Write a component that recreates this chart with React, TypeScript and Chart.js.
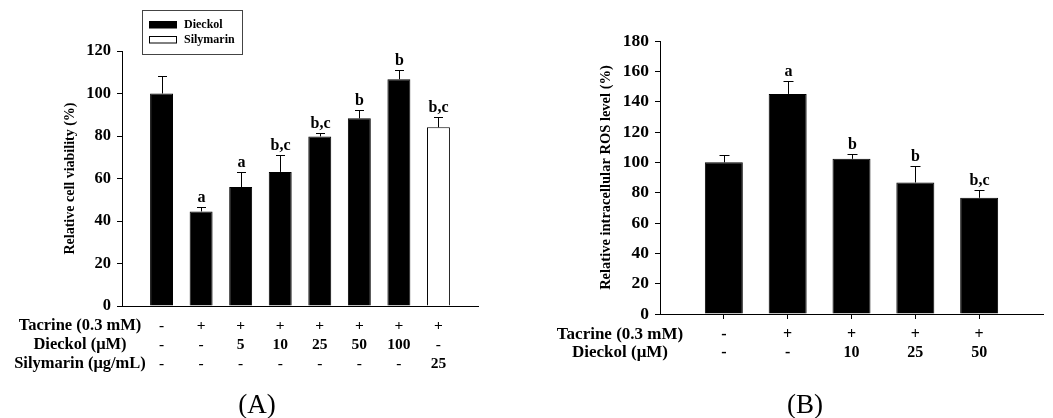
import React, { useEffect, useRef } from 'react';
import { Chart, registerables } from 'chart.js';

Chart.register(...registerables);

const SERIF = "'Liberation Serif', 'Times New Roman', Times, serif";

// ---------- Panel A data ----------
const seriesNames = ['Dieckol', 'Silymarin'];
const barSeriesA = ['Dieckol', 'Dieckol', 'Dieckol', 'Dieckol', 'Dieckol', 'Dieckol', 'Dieckol', 'Silymarin'];
const tacrineRowA = ['-', '+', '+', '+', '+', '+', '+', '+'];
const dieckolRowA = ['-', '-', '5', '10', '25', '50', '100', '-'];
const silymarinRowA = ['-', '-', '-', '-', '-', '-', '-', '25'];
const rowTitlesA = ['Tacrine (0.3 mM)', 'Dieckol (\u03bcM)', 'Silymarin (\u03bcg/mL)'];
const viability = [100, 44.5, 56, 63.1, 79.8, 88.3, 106.7, 84.1];
const viabilityErr = [8.3, 1.9, 6.9, 7.8, 1.5, 4.1, 4.2, 4.7];
const viabilityLetters = ['', 'a', 'a', 'b,c', 'b,c', 'b', 'b', 'b,c'];
const yTitleA = 'Relative cell viability (%)';
const yMaxA = 120;
const captionA = '(A)';

// ---------- Panel B data ----------
const tacrineRowB = ['-', '+', '+', '+', '+'];
const dieckolRowB = ['-', '-', '10', '25', '50'];
const rowTitlesB = ['Tacrine (0.3 mM)', 'Dieckol (\u03bcM)'];
const ros = [100, 145.1, 102.3, 86.7, 76.6];
const rosErr = [5.0, 8.8, 3.3, 11.2, 5.3];
const rosLetters = ['', 'a', 'b', 'b', 'b,c'];
const yTitleB = 'Relative intracellular ROS level (%)';
const yMaxB = 180;
const captionB = '(B)';

const yStep = 20;

type PanelSpec = {
  rows: string[][];
  rowTitles: string[];
  means: number[];
  errs: number[];
  letters: string[];
  series: string[];
  yTitle: string;
  yMax: number;
  caption: string;
  layout: {
    canvasW: number;
    padLeft: number;
    padTop: number;
    padRight: number;
    yAxisW: number;
    xAxisH: number;
    barPct: number;
    tickFont: number;
    tableFont: number;
    rowTitleFont: number;
    lineH: number;
    xTickLen: number;
    xTickPad: number;
    yTitleFont: number;
    rowTitleX: number;
    captionX: number;
    captionY: number;
    capW: number;
    legend: null | { x: number; y: number; w: number; h: number };
  };
};

function makeConfig(spec: PanelSpec): any {
  const L = spec.layout;
  const n = spec.means.length;
  const labels: any[] = [''];
  for (let i = 0; i < n; i++) labels.push(spec.rows.map((r) => r[i]));
  labels.push('');

  const datasets = seriesNames
    .filter((s) => spec.series.includes(s))
    .map((s) => ({
      label: s,
      data: [null, ...spec.means.map((v, i) => (spec.series[i] === s ? v : null)), null],
      backgroundColor: s === 'Dieckol' ? '#000000' : '#ffffff',
      borderColor: '#000000',
      borderWidth: 1,
      grouped: false,
      categoryPercentage: 1,
      barPercentage: L.barPct,
    }));

  const annot = {
    id: 'annot',
    afterDatasetsDraw(chart: any) {
      const ctx = chart.ctx;
      const xs = chart.scales.x;
      const ys = chart.scales.y;
      ctx.save();
      ctx.strokeStyle = '#000';
      ctx.lineWidth = 1;
      for (let i = 0; i < n; i++) {
        const x = Math.round(xs.getPixelForValue(i + 1)) + 0.5;
        const yb = ys.getPixelForValue(spec.means[i]);
        const yt = Math.round(ys.getPixelForValue(spec.means[i] + spec.errs[i])) + 0.5;
        ctx.beginPath();
        ctx.moveTo(x, yb);
        ctx.lineTo(x, yt);
        ctx.moveTo(x - L.capW / 2, yt);
        ctx.lineTo(x + L.capW / 2, yt);
        ctx.stroke();
        if (spec.letters[i]) {
          ctx.fillStyle = '#000';
          ctx.font = `bold 16px ${SERIF}`;
          ctx.textAlign = 'center';
          ctx.textBaseline = 'alphabetic';
          ctx.fillText(spec.letters[i], x, yt - 6);
        }
      }
      ctx.restore();
    },
    afterDraw(chart: any) {
      const ctx = chart.ctx;
      const area = chart.chartArea;
      ctx.save();
      ctx.fillStyle = '#000';
      ctx.font = `bold ${L.rowTitleFont}px ${SERIF}`;
      ctx.textAlign = 'center';
      ctx.textBaseline = 'middle';
      spec.rowTitles.forEach((t, r) => {
        const y = area.bottom + L.xTickLen + L.xTickPad + L.lineH * (r + 0.5);
        ctx.fillText(t, L.rowTitleX, y);
      });
      ctx.font = `27px ${SERIF}`;
      ctx.fillText(spec.caption, L.captionX, L.captionY);
      if (L.legend) {
        const lg = L.legend;
        ctx.strokeStyle = '#444';
        ctx.lineWidth = 1;
        ctx.strokeRect(lg.x + 0.5, lg.y + 0.5, lg.w, lg.h);
        ctx.font = `bold 12px ${SERIF}`;
        ctx.textAlign = 'left';
        chart.data.datasets.forEach((ds: any, k: number) => {
          const cy = lg.y + 14.5 + k * 15;
          ctx.fillStyle = ds.backgroundColor;
          ctx.fillRect(lg.x + 7, cy - 3.5, 28, 7);
          ctx.strokeStyle = '#000';
          ctx.strokeRect(lg.x + 7.5, cy - 3, 27, 6.5);
          ctx.fillStyle = '#000';
          ctx.fillText(ds.label, lg.x + 42, cy);
        });
      }
      ctx.restore();
    },
  };

  return {
    type: 'bar',
    data: { labels, datasets },
    plugins: [annot],
    options: {
      responsive: false,
      animation: false,
      devicePixelRatio: 1,
      layout: { padding: { left: L.padLeft, top: L.padTop, right: L.padRight, bottom: 0 } },
      plugins: { legend: { display: false }, tooltip: { enabled: false }, title: { display: false } },
      scales: {
        x: {
          type: 'category',
          offset: false,
          grid: {
            display: true,
            offset: false,
            drawOnChartArea: false,
            drawTicks: L.xTickLen > 0,
            tickLength: L.xTickLen,
            tickColor: (c: any) => (c.index === 0 || c.index === n + 1 ? 'rgba(0,0,0,0)' : '#000'),
          },
          border: { display: true, color: '#000', width: 1 },
          ticks: {
            autoSkip: false,
            maxRotation: 0,
            minRotation: 0,
            padding: L.xTickPad,
            color: '#000',
            font: { family: SERIF, size: L.tableFont, weight: 'bold', lineHeight: `${L.lineH}px` },
          },
          afterFit: (s: any) => {
            s.height = L.xAxisH;
          },
        },
        y: {
          min: 0,
          max: spec.yMax,
          grid: { drawOnChartArea: false, tickLength: 5, color: '#000' },
          border: { display: true, color: '#000', width: 1 },
          ticks: {
            stepSize: yStep,
            padding: 6,
            color: '#000',
            font: { family: SERIF, size: L.tickFont, weight: 'bold' },
          },
          title: {
            display: true,
            text: spec.yTitle,
            color: '#000',
            padding: { top: 3, bottom: 3 },
            font: { family: SERIF, size: L.yTitleFont, weight: 'bold' },
          },
          afterFit: (s: any) => {
            s.width = L.yAxisW;
          },
        },
      },
    },
  };
}

const specA: PanelSpec = {
  rows: [tacrineRowA, dieckolRowA, silymarinRowA],
  rowTitles: rowTitlesA,
  means: viability,
  errs: viabilityErr,
  letters: viabilityLetters,
  series: barSeriesA,
  yTitle: yTitleA,
  yMax: yMaxA,
  caption: captionA,
  layout: {
    canvasW: 520,
    padLeft: 59,
    padTop: 51,
    padRight: 42,
    yAxisW: 63,
    xAxisH: 112,
    barPct: 0.58,
    tickFont: 16.5,
    tableFont: 15.5,
    rowTitleFont: 16.5,
    lineH: 19,
    xTickLen: 0,
    xTickPad: 10,
    yTitleFont: 14,
    rowTitleX: 80,
    captionX: 257,
    captionY: 406,
    capW: 9,
    legend: { x: 142, y: 10, w: 100, h: 44 },
  },
};

const LEFT_B = 530;
const specB: PanelSpec = {
  rows: [tacrineRowB, dieckolRowB],
  rowTitles: rowTitlesB,
  means: ros,
  errs: rosErr,
  letters: rosLetters,
  series: ros.map(() => 'Dieckol'),
  yTitle: yTitleB,
  yMax: yMaxB,
  caption: captionB,
  layout: {
    canvasW: 523,
    padLeft: 65,
    padTop: 41,
    padRight: 10,
    yAxisW: 65,
    xAxisH: 104,
    barPct: 0.595,
    tickFont: 17.5,
    tableFont: 16,
    rowTitleFont: 17,
    lineH: 18,
    xTickLen: 5,
    xTickPad: 7,
    yTitleFont: 14.5,
    rowTitleX: 620 - LEFT_B,
    captionX: 805 - LEFT_B,
    captionY: 406,
    capW: 10,
    legend: null,
  },
};

function Panel({ spec, left }: { spec: PanelSpec; left: number }) {
  const ref = useRef<HTMLCanvasElement>(null);
  useEffect(() => {
    const chart = new Chart(ref.current as HTMLCanvasElement, makeConfig(spec));
    return () => chart.destroy();
  }, [spec]);
  return (
    <canvas
      ref={ref}
      width={spec.layout.canvasW}
      height={418}
      style={{ position: 'absolute', left, top: 0, width: spec.layout.canvasW, height: 418, display: 'block' }}
    />
  );
}

export default function App() {
  return (
    <div style={{ position: 'absolute', left: 0, top: 0, width: 1053, height: 418, background: '#fff', overflow: 'hidden' }}>
      <Panel spec={specA} left={0} />
      <Panel spec={specB} left={LEFT_B} />
    </div>
  );
}
